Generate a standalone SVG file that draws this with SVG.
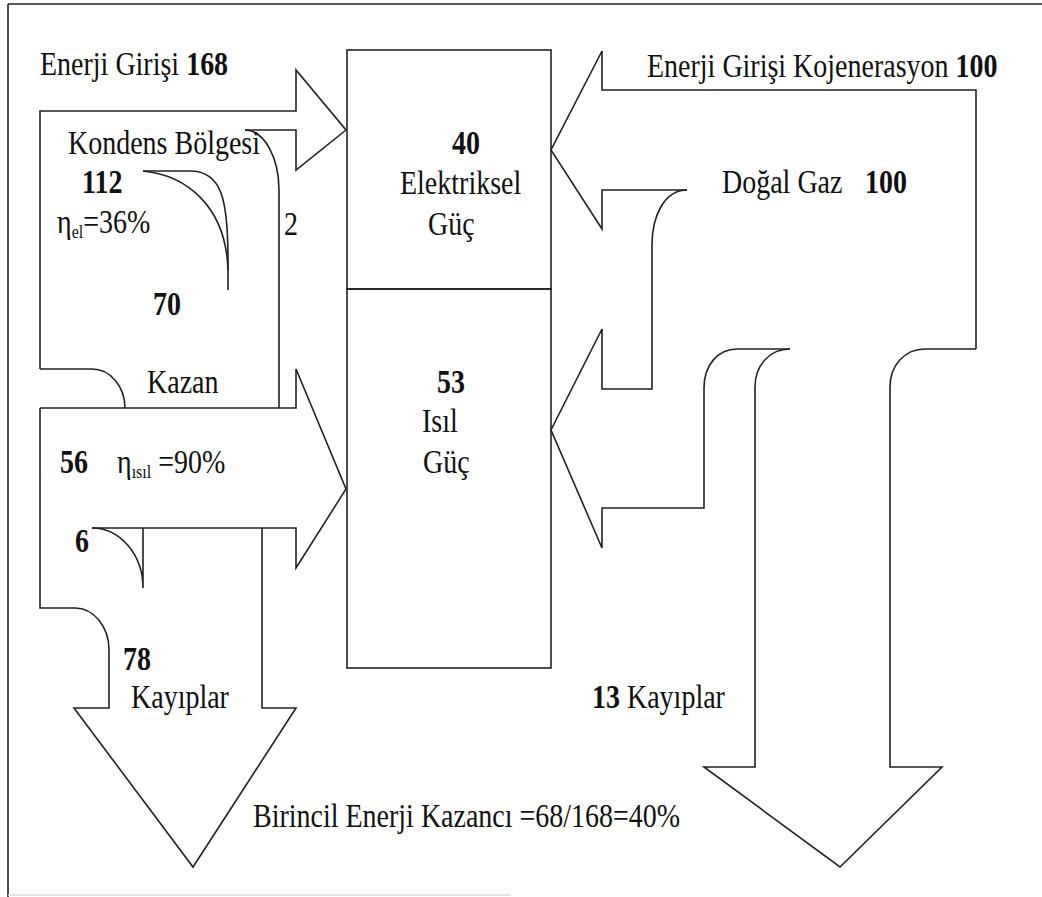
<svg xmlns="http://www.w3.org/2000/svg" width="1042" height="897" viewBox="0 0 1042 897">
<style>
.ln{fill:none;stroke:#222;stroke-width:1.6;stroke-linejoin:miter}
.t{font-family:"Liberation Serif","Times New Roman",serif;font-size:28px;fill:#111}
.b{font-weight:bold}
</style>
<rect width="1042" height="897" fill="#fff"/>
<g id="frame">
<path class="ln" d="M8,4 L1042,4 M8,4 L8,897"/>
<path d="M8,895 L511,895" stroke="#ddd" stroke-width="1.5" fill="none"/>
</g>
<g id="connectors">
<path class="ln" d="M40,369 L40,111 L296,111 L296,70 L346,130 L296,170 L296,130 L245,130"/>
<path class="ln" d="M245,130 A34,60 0 0 1 279,190 L279,408"/>
<path class="ln" d="M143,171 L190,171 C222,171 228,200 228,260 L228,290"/>
<path class="ln" d="M143,171 C185,175 226,205 228,270"/>
<path class="ln" d="M40,369 L92,369 A33,39 0 0 1 125,408"/>
<path class="ln" d="M40,408 L296,408 L296,369 L346,489 L296,568 L296,528 L92,528"/>
<path class="ln" d="M92,528 A51,60 0 0 1 143,588 M143,528 L143,588"/>
<path class="ln" d="M40,408 L40,608 L75,608 A34,42 0 0 1 109,650 L109,708 L74,708 L193,867 L296,708 L262,708 L262,528"/>
<path class="ln" d="M976,349 L976,90 L602,90 L602,51 L551,150 L602,229 L602,190 L687,190"/>
<path class="ln" d="M687,190 C665,190 652,215 652,245 L652,389 L602,389 L602,329 L551,430 L602,548 L602,508 L704,508 L704,388 C704,365 718,349 737,349 L790,349"/>
<path class="ln" d="M790,349 C770,349 755,365 755,387 L755,767 L704,767 L840,867 L942,767 L890,767 L890,387 C890,365 905,349 925,349 L976,349"/>
</g>
<g id="node-elektriksel">
<rect class="ln" x="347" y="50" width="204" height="239"/>
<text class="t b" transform="translate(452,154) scale(1,1.18)">40</text>
<text class="t" transform="translate(400,194) scale(1,1.18)">Elektriksel</text>
<text class="t" transform="translate(428,235) scale(1,1.18)">Güç</text>
</g>
<g id="node-isil">
<rect class="ln" x="347" y="289" width="204" height="379"/>
<text class="t b" transform="translate(437,393) scale(1,1.18)">53</text>
<text class="t" transform="translate(422,432) scale(1,1.18)">Isıl</text>
<text class="t" transform="translate(423,473) scale(1,1.18)">Güç</text>
</g>
<g id="labels-left">
<text class="t" transform="translate(40,75) scale(1,1.18)">Enerji Girişi <tspan class="b">168</tspan></text>
<text class="t" transform="translate(68,154) scale(1,1.18)">Kondens Bölgesi</text>
<text class="t b" transform="translate(82,193) scale(1,1.18)">112</text>
<text class="t" transform="translate(57,233) scale(1,1.18)">η<tspan font-size="16" dy="4">el</tspan><tspan dy="-4">=36%</tspan></text>
<text class="t b" transform="translate(153,315) scale(1,1.18)">70</text>
<text class="t" transform="translate(284,235) scale(1,1.18)">2</text>
<text class="t" transform="translate(147,393) scale(1,1.18)">Kazan</text>
<text class="t b" transform="translate(60,473) scale(1,1.18)">56</text>
<text class="t" transform="translate(117,473) scale(1,1.18)">η<tspan font-size="16" dy="4">ısıl</tspan><tspan dy="-4"> =90%</tspan></text>
<text class="t b" transform="translate(75,552) scale(1,1.18)">6</text>
<text class="t b" transform="translate(123,670) scale(1,1.18)">78</text>
<text class="t" transform="translate(131,708) scale(1,1.18)">Kayıplar</text>
</g>
<g id="labels-right">
<text class="t" transform="translate(647,77) scale(1,1.18)">Enerji Girişi Kojenerasyon <tspan class="b">100</tspan></text>
<text class="t" transform="translate(722,193) scale(1,1.18)">Doğal Gaz</text>
<text class="t b" transform="translate(865,193) scale(1,1.18)">100</text>
<text class="t" transform="translate(592,708) scale(1,1.18)"><tspan class="b">13</tspan> Kayıplar</text>
</g>
<g id="label-bottom">
<text class="t" transform="translate(253,827) scale(1,1.18)">Birincil Enerji Kazancı =68/168=40%</text>
</g>
</svg>
